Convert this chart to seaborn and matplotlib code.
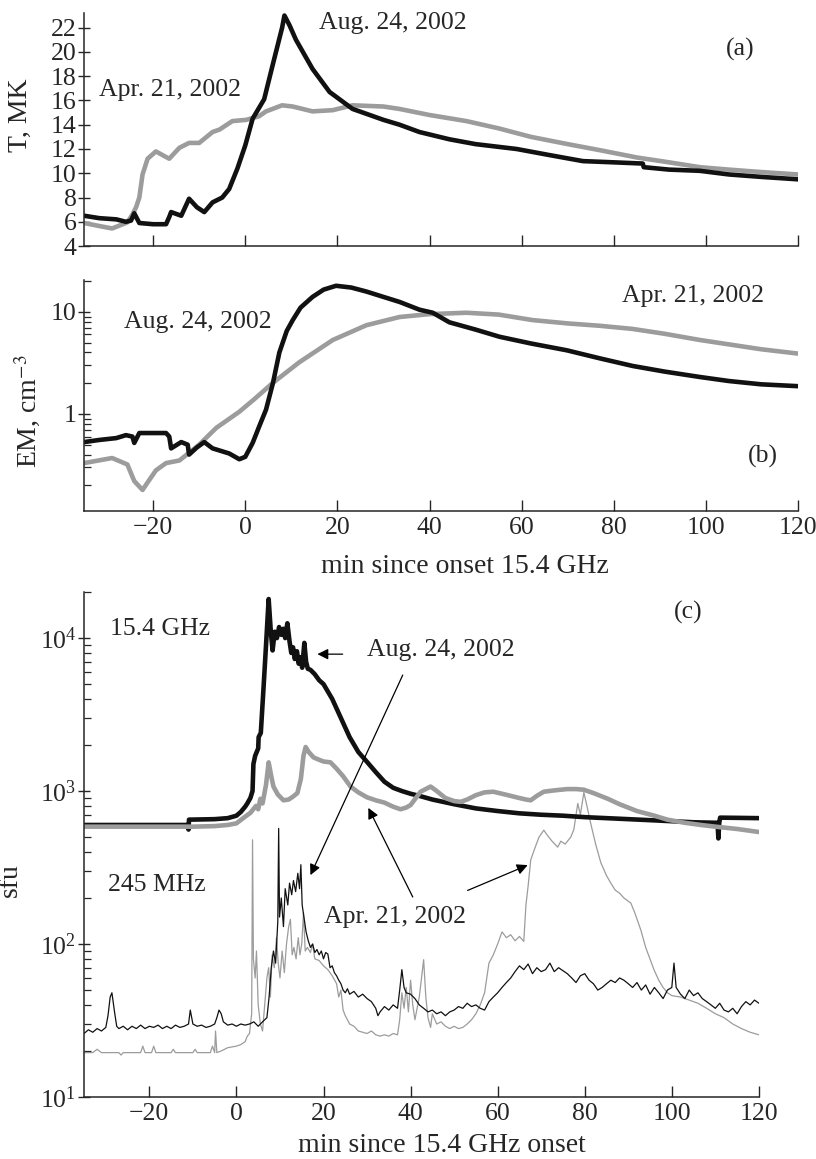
import seaborn as sns
import matplotlib.pyplot as plt

sns.set_style("ticks")
plt.rcParams['font.family'] = ['Liberation Serif', 'DejaVu Serif']
plt.rcParams['mathtext.fontset'] = 'stix'

BLACK = '#111111'
GRAY = '#9c9c9c'

# ---- panel (a): temperature, MK
t_apr_x = [-35, -31, -28.9, -25.6, -24.5, -23.7, -23, -22.3, -21.2, -19.4, -17.5, -16.5, -14.3, -12.2, -10,
           -7.1, -5.6, -2.8, 0.2, 3, 4.5, 8, 10.3, 14.6, 19, 23.3, 30, 33.5, 40, 48, 55, 62, 70, 77, 85, 92,
           98.7, 105, 112, 120]
t_apr = [5.9, 5.6, 5.45, 5.95, 6.6, 7.2, 8.0, 9.9, 11.2, 11.8, 11.4, 11.2, 12.1, 12.5, 12.5,
         13.4, 13.6, 14.3, 14.4, 14.7, 15.1, 15.6, 15.5, 15.1, 15.2, 15.6, 15.5, 15.3, 14.8, 14.3, 13.7, 13.0,
         12.4, 11.9, 11.3, 10.9, 10.5, 10.3, 10.1, 9.9]
t_aug_x = [-35, -31.7, -28, -25.9, -24.8, -24.1, -23, -20, -17.2, -16.5, -16.1, -13.9, -12.2, -10.5, -8.9,
           -7.1, -5, -3.5, -1.7, 0, 1.6, 4.1, 6, 8, 8.5, 9.6, 11, 14.6, 18.3, 23.3, 30, 33.5, 37.8, 44.3, 50,
           58.9, 66, 73.3, 80, 86.3, 86.5, 92, 98.7, 105, 112, 120]
t_aug = [6.5, 6.3, 6.2, 6.0, 6.1, 6.7, 5.9, 5.8, 5.8, 6.4, 6.8, 6.5, 7.9, 7.2, 6.8,
         7.6, 8.0, 8.7, 10.4, 12.3, 14.5, 16.1, 19.0, 22.0, 23.0, 22.2, 21.0, 18.6, 16.7, 15.3, 14.4, 14.0,
         13.4, 12.8, 12.4, 12.0, 11.5, 11.0, 10.9, 10.8, 10.5, 10.3, 10.2, 9.9, 9.7, 9.5]

# ---- panel (b): emission measure
em_apr_x = [-35, -28.9, -25.6, -24.1, -22.3, -21, -19.4, -17.2, -14.3, -10, -6.3, -1.3, 2, 5.9, 11.7, 19,
            26.3, 33.5, 40, 48, 55, 62.4, 70, 77, 84.1, 91, 98.7, 105, 112, 120]
em_apr = [0.33, 0.37, 0.32, 0.22, 0.18, 0.22, 0.28, 0.33, 0.35, 0.50, 0.73, 1.05, 1.4, 2.0, 3.2, 5.3,
          7.4, 8.9, 9.5, 9.8, 9.4, 8.3, 7.7, 7.3, 6.8, 6.1, 5.3, 4.8, 4.3, 3.9]
em_aug_x = [-35, -31.7, -28, -25.9, -24.5, -24.1, -23, -17.2, -16.5, -16.1, -13.9, -12.5, -12.2, -10.5,
            -8.9, -7.1, -3.5, -1.3, 0, 1.6, 3, 4.5, 6, 7.4, 9, 10.3, 12, 14.6, 17, 19.7, 23, 26.3, 30, 33.5,
            37.8, 40.7, 44.3, 50, 55.2, 62, 69.8, 77, 84.1, 91, 98.7, 105, 112, 120]
em_aug = [0.53, 0.556, 0.58, 0.62, 0.6, 0.52, 0.65, 0.65, 0.6, 0.46, 0.53, 0.5, 0.40, 0.47,
          0.53, 0.46, 0.41, 0.36, 0.38, 0.52, 0.75, 1.1, 2.0, 4.0, 6.5, 8.3, 11, 14, 16.5, 18, 17.3, 15.8, 14,
          12.5, 10.5, 9.8, 7.9, 6.7, 5.7, 4.9, 4.2, 3.5, 2.95, 2.6, 2.3, 2.1, 1.95, 1.87]

# ---- panel (c): 15.4 GHz flux, sfu
g_aug_x = [-35, -20, -11.2, -11, -10.9, -5, -2, 0, 1, 2, 2.5, 3.2, 3.7, 3.9, 4.3, 5, 5.1, 5.6, 6.2, 6.8,
           7.4, 7.9, 8.3, 8.8, 9.3, 9.8, 10.3, 10.8, 11.2, 11.7, 12.2, 12.6, 13, 13.4, 13.9, 14.3, 14.7,
           15.1, 15.6, 16, 16.4, 17, 18, 19, 20, 22, 24, 26, 28, 30, 32, 34, 36, 38, 40, 42, 45, 50, 55,
           60, 65, 70, 75, 80, 85, 90, 95, 100, 105, 110.5, 110.7, 110.9, 111.1, 115, 120]
g_aug = [600, 600, 600, 560, 650, 655, 665, 690, 730, 790, 830, 900, 1000, 1500, 1700, 1900, 2250, 2400,
         4600, 9000, 18000, 11000, 8300, 11000, 10000, 11800, 10500, 11500, 10000, 12500, 9500, 8000,
         8700, 7300, 8200, 6800, 7500, 6400, 9300, 7000, 6300, 6200, 5800, 5300, 5000, 4000, 3000, 2250,
         1800, 1550, 1330, 1150, 1050, 1000, 960, 930, 880, 820, 770, 740, 715, 700, 690, 675, 665, 655,
         645, 635, 625, 620, 490, 620, 670, 668, 665]
g_apr_x = [-35, -10, -5, -2, 0, 2, 3.2, 4.5, 5, 5.5, 6, 6.8, 7.4, 8, 8.5, 9.5, 10.8, 12, 13, 14, 14.8,
           15.4, 15.9, 16.6, 17.7, 19, 20, 21.6, 23, 24.5, 26.2, 28, 30, 32, 34, 36, 37.7, 39, 40, 42.3,
           44.6, 46, 48, 50, 51.5, 53, 55, 57, 59, 61, 63, 65, 66.5, 67.6, 69, 70.6, 73, 76, 78, 79.8, 82,
           85.3, 88, 92, 96, 99, 103, 106.7, 110, 115, 120]
g_apr = [585, 585, 590, 600, 615, 680, 720, 800, 760, 890, 830, 1100, 1540, 1250, 1070, 950, 870, 880,
         920, 970, 1200, 1700, 1940, 1800, 1660, 1600, 1560, 1540, 1400, 1250, 1070, 980, 910, 870, 840,
         790, 760, 780, 810, 990, 1070, 1000, 900, 860, 850, 880, 940, 980, 990, 960, 930, 900, 880, 870,
         930, 990, 1010, 1030, 1030, 1020, 970, 890, 820, 740, 690, 650, 620, 600, 585, 565, 540]

# ---- panel (c): 245 MHz flux, sfu
m_aug_x = [-35, -34, -33, -32, -31, -30, -29.5, -29, -28.6, -28, -27.5, -27, -26, -25, -24, -23, -22, -21,
           -20, -19, -18, -17, -16, -15, -14, -13, -12, -11, -10.6, -10, -9, -8, -7, -6, -5, -4.5, -4, -3.5,
           -3, -2, -1, 0, 1, 2, 3, 4, 5, 6, 7, 7.5, 8, 8.5, 9, 9.5, 9.7, 9.9, 10.3, 10.8, 11.2, 11.8, 12.2,
           12.7, 13.1, 13.6, 14.1, 14.5, 14.8, 15.1, 15.5, 16, 16.5, 17, 17.5, 18, 18.5, 19, 19.5, 20, 20.5,
           21, 21.5, 22, 22.5, 23, 23.5, 24, 24.5, 25, 25.5, 26, 27, 28, 29, 30, 31, 32, 32.5, 33, 34, 35,
           36, 37, 37.5, 38, 38.5, 39, 40, 41, 42, 43, 44, 45, 46, 47, 48, 49, 50, 51, 52, 53, 54, 55, 56,
           57, 58, 59, 60, 61, 62, 63, 64, 65, 66, 67, 68, 69, 70, 71, 72, 73, 74, 75, 76, 77, 78, 79, 80,
           81, 82, 83, 84, 85, 86, 87, 88, 89, 90, 91, 92, 93, 94, 95, 96, 97, 98, 99, 100, 100.5, 101, 102,
           103, 104, 105, 106, 107, 108, 109, 110, 111, 112, 113, 114, 115, 116, 117, 118, 119, 120]
m_aug = [26, 27.5, 26.5, 28, 27, 28.5, 34, 45, 48, 36, 29, 28, 29, 27.5, 29, 28, 29.5, 28,
         29, 28.5, 29.5, 28, 29, 28, 29.5, 28.5, 29, 30, 37, 30, 29, 29.5, 28.5, 29, 30, 33, 37, 35,
         31, 29.5, 30, 29, 30, 29.5, 30, 31, 29, 31, 33, 45, 70, 90, 75, 140, 570, 150, 200, 130, 230, 180,
         250, 210, 260, 220, 290, 230, 330, 180, 150, 120, 105, 95, 100, 88, 92, 85, 90, 80, 88,
         86, 70, 72, 65, 62, 58, 55, 50, 48, 51, 47, 49, 45, 47, 44, 42, 38, 34, 36, 39, 37,
         40, 38, 50, 68, 52, 48, 47, 44, 40, 38, 36, 37, 35, 36, 34, 36, 37, 39, 38, 41, 39, 40, 38,
         37, 42, 45, 48, 52, 56, 60, 66, 72, 68, 74, 64, 70, 66, 68, 75, 66, 70, 67, 64, 60, 56, 62, 64,
         58, 55, 50, 52, 55, 58, 56, 60, 58, 55, 52, 56, 50, 54, 47, 52, 48, 44, 50, 52, 75, 52, 47,
         44, 50, 46, 48, 44, 42, 40, 38, 41, 37, 36, 38, 35, 39, 42, 40, 43, 41]
m_apr_x = [-35, -33, -32, -31, -27, -26.5, -26, -22, -21.5, -21, -19.5, -19, -18.5, -15, -14.5, -14, -10,
           -9.5, -9, -6, -5.5, -5, -4.8, -4.5, -3.5, -2, 0, 1, 2, 2.5, 3, 3.5, 3.7, 3.9, 4.3, 4.6, 5, 5.5,
           6, 6.5, 7, 7.4, 7.8, 8.2, 8.7, 9.2, 9.6, 10, 10.5, 11, 11.5, 12, 12.4, 12.8, 13.2, 13.7, 14.2,
           14.6, 15, 15.4, 15.8, 16.3, 17, 17.5, 18, 19, 20, 21, 22, 23, 23.5, 24, 24.5, 25, 26, 27, 28,
           29, 30, 31, 32, 33, 34, 35, 36, 37, 37.5, 38, 38.5, 39, 39.5, 40, 40.5, 41, 42, 43, 43.5, 44,
           44.6, 45, 46, 47, 48, 49, 50, 51, 52, 53, 54, 55, 56, 57, 58, 59, 60, 61, 62, 63, 64, 65, 66,
           66.5, 67, 67.6, 68.5, 69.5, 70.6, 71.5, 72.5, 73.8, 74.5, 75.5, 76.8, 77.5, 78.4, 79, 79.8, 80.5,
           81.4, 82.5, 83.7, 85, 86, 87, 88, 89, 90.6, 91.5, 92.9, 94, 95.9, 97, 98, 99, 100, 102, 104,
           106, 108, 110, 112, 114, 116, 118, 120]
m_apr = [19.5, 19.5, 20.5, 19.5, 19.5, 18.8, 19.5, 19.5, 21.5, 19.5, 19.5, 21.5, 19.5, 19.5, 20.5, 19.5, 19.5,
         20.5, 19.5, 19.5, 21.5, 19.5, 27, 19.5, 20, 21, 21.5, 22, 23, 25, 26, 35, 480, 80, 60, 90, 40, 30,
         27, 40, 60, 70, 45, 85, 70, 110, 75, 60, 90, 65, 100, 130, 145, 85, 95, 80, 110,
         85, 100, 160, 90, 95, 88, 100, 80, 78, 72, 68, 62, 55, 45, 50, 37, 34, 30, 29, 27,
         26.5, 26, 27, 25.5, 25, 25.5, 25, 26, 25.5, 32, 48, 38, 52, 36, 58, 40, 32, 45, 79, 45, 33,
         28.5, 35, 30, 31, 29, 28, 29, 28, 28.5, 30, 32, 35, 40, 48, 75, 85, 100, 120, 110, 115, 105, 112, 104,
         180, 240, 355, 420, 500, 555, 510, 470, 430, 470, 450, 500, 560, 830, 700, 980, 800,
         610, 450, 340, 280, 250, 225, 215, 200, 185, 160, 123, 95, 68, 58, 52, 48, 46, 45, 43,
         41, 38, 35, 33, 30, 28, 26.5, 25.5]

x_ticks = [-20, 0, 20, 40, 60, 80, 100, 120]
t_ticks = [4, 6, 8, 10, 12, 14, 16, 18, 20, 22]

TXT = 18.5
LABEL = 20
TICK = 18.5


def line(ax, x, y, color, lw):
    sns.lineplot(x=x, y=y, ax=ax, color=color, lw=lw, estimator=None, sort=False, legend=False)


def style(ax):
    sns.despine(ax=ax)
    for s in ['left', 'bottom']:
        ax.spines[s].set_linewidth(1.1)
    ax.set_xlim(-35, 120)
    ax.set_xticks(x_ticks)
    ax.tick_params(axis='x', direction='in', length=8, width=1, labelsize=TICK, pad=4)
    ax.tick_params(axis='y', which='major', direction='inout', length=9, width=1, labelsize=TICK, pad=1)
    ax.tick_params(axis='y', which='minor', direction='in', length=5, width=0.9)


fig = plt.figure(figsize=(8.16, 11.59), dpi=100)

# (a)
ax1 = fig.add_axes([0.103, 0.7877, 0.875, 0.201])
line(ax1, t_apr_x, t_apr, GRAY, 3.3)
line(ax1, t_aug_x, t_aug, BLACK, 3.3)
style(ax1)
ax1.set_ylim(4, 23.2)
ax1.set_yticks(t_ticks)
ax1.set_xticklabels([])
ax1.set_ylabel('T, MK', fontsize=LABEL)
ax1.yaxis.set_label_coords(-0.072, 0.56)
ax1.text(16.1, 22.4, 'Aug. 24, 2002', fontsize=TXT, va='center', ha='left')
ax1.text(-31.7, 16.9, 'Apr. 21, 2002', fontsize=TXT, va='center', ha='left')
ax1.text(107.4, 20.2, '(a)', fontsize=TXT, va='center', ha='center')

# (b)
ax2 = fig.add_axes([0.103, 0.5591, 0.875, 0.1993])
line(ax2, em_apr_x, em_apr, GRAY, 3.3)
line(ax2, em_aug_x, em_aug, BLACK, 3.3)
ax2.set_yscale('log')
style(ax2)
ax2.set_ylim(0.112, 20.5)
ax2.set_yticks([1, 10])
ax2.set_yticklabels(['1', '10'])
ax2.set_ylabel('EM, cm$^{-3}$', fontsize=LABEL)
ax2.yaxis.set_label_coords(-0.057, 0.43)
ax2.set_xlabel('min since onset 15.4 GHz', fontsize=LABEL)
ax2.xaxis.set_label_coords(0.534, -0.185)
ax2.text(-26.3, 7.9, 'Aug. 24, 2002', fontsize=TXT, va='center', ha='left')
ax2.text(81.7, 14.4, 'Apr. 21, 2002', fontsize=TXT, va='center', ha='left')
ax2.text(112.4, 0.38, '(b)', fontsize=TXT, va='center', ha='center')

# (c)
ax3 = fig.add_axes([0.103, 0.0535, 0.827, 0.4357])
line(ax3, m_apr_x, m_apr, GRAY, 0.9)
line(ax3, m_aug_x, m_aug, BLACK, 0.9)
line(ax3, g_aug_x, g_aug, BLACK, 3.3)
line(ax3, g_apr_x, g_apr, GRAY, 3.3)
ax3.set_yscale('log')
style(ax3)
ax3.set_ylim(10, 20000)
ax3.set_yticks([10, 100, 1000, 10000])
ax3.set_ylabel('sfu', fontsize=LABEL)
ax3.yaxis.set_label_coords(-0.09, 0.43)
ax3.set_xlabel('min since 15.4 GHz onset', fontsize=LABEL)
ax3.xaxis.set_label_coords(0.53, -0.072)
ax3.text(-29, 11500, '15.4 GHz', fontsize=TXT, va='center', ha='left')
ax3.text(-29.5, 243, '245 MHz', fontsize=TXT, va='center', ha='left')
ax3.text(103.7, 14800, '(c)', fontsize=TXT, va='center', ha='center')
ax3.text(30.1, 8300, 'Aug. 24, 2002', fontsize=TXT, va='center', ha='left')
ax3.text(20, 150, 'Apr. 21, 2002', fontsize=TXT, va='center', ha='left')

arrows = [((24.4, 7850), (18.6, 7850)),
          ((38.2, 5730), (17, 282)),
          ((40.5, 203), (30.3, 776)),
          ((53.1, 224), (66.9, 328))]
for tail, head in arrows:
    ax3.annotate('', xy=head, xytext=tail,
                 arrowprops=dict(arrowstyle='-|>', color='k', lw=0.9, mutation_scale=16,
                                 shrinkA=0, shrinkB=0))

plt.savefig('out.png', dpi=100)
